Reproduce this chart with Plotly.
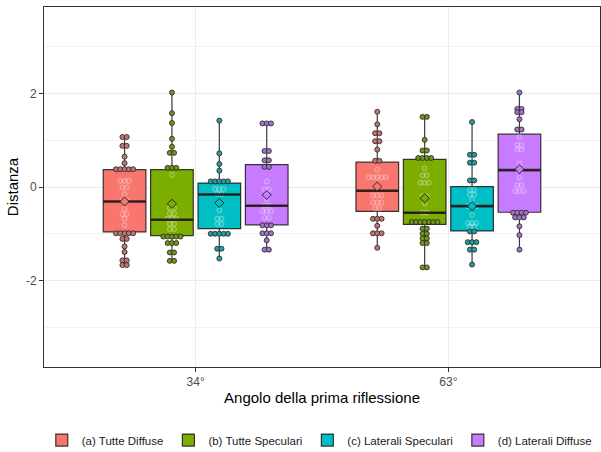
import plotly.graph_objects as go
from collections import Counter

# ---------------- data ----------------
conditions = ["(a) Tutte Diffuse", "(b) Tutte Speculari",
              "(c) Laterali Speculari", "(d) Laterali Diffuse"]
angle_labels = ["34°", "63°"]
colors = ["#F8766D", "#7CAE00", "#00BFC4", "#C77CFF"]
dot_colors = ["#C27470", "#6E9418", "#1F9FA3", "#A072C8"]
y_tick_vals = [-2, 0, 2]
y_tick_labels = ["-2", "0", "2"]
y_minor_vals = [-3, -1, 1, 3]

# box statistics: [34°, 63°] for each condition
q1_vals = [[-0.96, -0.52], [-1.04, -0.80], [-0.89, -0.94], [-0.81, -0.54]]
median_vals = [[-0.31, -0.08], [-0.70, -0.55], [-0.16, -0.41], [-0.40, 0.36]]
q3_vals = [[0.37, 0.53], [0.37, 0.59], [0.085, 0.01], [0.48, 1.13]]
lower_vals = [[-1.67, -1.30], [-1.59, -1.72], [-1.55, -1.66], [-1.36, -1.35]]
upper_vals = [[1.07, 1.60], [2.01, 1.50], [1.41, 1.39], [1.37, 2.01]]
mean_vals = [[-0.31, 0.01], [-0.36, -0.24], [-0.34, -0.41], [-0.17, 0.38]]

# individual observations (dot plot)
obs_a_34 = [1.07, 1.07, 0.88, 0.88, 0.65, 0.51, 0.38, 0.38, 0.38, 0.38, 0.38,
            0.13, 0.13, 0.13, -0.01, -0.01, -0.15, -0.29, -0.29, -0.47,
            -0.58, -0.58, -0.68, -0.82, -0.99, -0.99, -0.99, -0.99, -0.99,
            -1.11, -1.11, -1.27, -1.39, -1.57, -1.57, -1.67, -1.67]
obs_b_34 = [2.02, 1.58, 1.37, 1.03, 0.86, 0.73, 0.73, 0.41, 0.41, 0.41, 0.26,
            -0.45, -0.45, -0.57, -0.57, -0.68, -0.68, -0.68, -0.79, -0.79,
            -0.90, -0.90, -1.06, -1.06, -1.06, -1.06, -1.06, -1.20, -1.20,
            -1.20, -1.40, -1.40, -1.58, -1.58]
obs_c_34 = [1.42, 0.72, 0.49, 0.35, 0.12, 0.12, 0.12, 0.12, 0.12, -0.04,
            -0.04, -0.04, -0.15, -0.15, -0.50, -0.68, -0.68, -0.79, -0.79,
            -1.00, -1.00, -1.00, -1.00, -1.00, -1.32, -1.32, -1.53]
obs_d_34 = [1.36, 1.36, 1.36, 0.77, 0.77, 0.57, 0.57, 0.43, 0.43, 0.12,
            -0.05, -0.05, -0.25, -0.40, -0.40, -0.52, -0.52, -0.52, -0.66,
            -0.66, -0.82, -0.82, -0.82, -0.99, -0.99, -0.99, -1.14, -1.34, -1.34]
obs_a_63 = [1.61, 1.34, 1.15, 1.15, 0.98, 0.98, 0.80, 0.56, 0.56, 0.37,
            0.21, 0.21, 0.21, 0.21, 0.21, 0.03, -0.18, -0.18, -0.18, -0.33,
            -0.33, -0.33, -0.46, -0.46, -0.68, -0.68, -0.68, -0.83, -0.99,
            -0.99, -0.99, -1.30]
obs_b_63 = [1.50, 1.50, 1.01, 0.78, 0.78, 0.62, 0.62, 0.62, 0.62, 0.40,
            0.25, 0.25, 0.09, 0.09, 0.09, -0.20, -0.20, -0.35, -0.55, -0.55,
            -0.75, -0.75, -0.75, -0.75, -0.75, -0.75, -0.75, -0.89, -0.89,
            -1.00, -1.00, -1.10, -1.10, -1.20, -1.20, -1.72, -1.72]
obs_c_63 = [1.39, 0.69, 0.69, 0.52, 0.52, 0.14, 0.14, -0.06, -0.06, -0.16,
            -0.16, -0.27, -0.41, -0.41, -0.41, -0.60, -0.77, -0.77, -0.77,
            -0.85, -0.85, -0.95, -0.95, -1.18, -1.18, -1.18, -1.34, -1.34, -1.66]
obs_d_63 = [2.02, 1.67, 1.67, 1.60, 1.60, 1.45, 1.23, 1.23, 1.07, 0.90, 0.90,
            0.80, 0.80, 0.50, 0.36, 0.36, 0.20, 0.04, 0.04, -0.09, -0.09,
            -0.09, -0.55, -0.55, -0.55, -0.55, -0.65, -0.65, -0.65, -0.84,
            -1.03, -1.34]

observations = [[obs_a_34, obs_a_63], [obs_b_34, obs_b_63],
                [obs_c_34, obs_c_63], [obs_d_34, obs_d_63]]

# ---------------- layout constants ----------------
DODGE = 0.75 / 4
BOX_W = DODGE * 0.9
DOT_DX = 0.017
FONT = "Liberation Sans, Arial, sans-serif"
DARK = "rgba(25,25,25,0.85)"

fig = go.Figure()


def pos(k, g):
    return g + (k - 1.5) * DODGE


# boxes
for k, cond in enumerate(conditions):
    fig.add_trace(go.Box(
        name=cond,
        x=[pos(k, g) for g in range(2)],
        q1=q1_vals[k], median=median_vals[k], q3=q3_vals[k],
        lowerfence=lower_vals[k], upperfence=upper_vals[k],
        width=BOX_W, whiskerwidth=0, boxpoints=False,
        fillcolor=colors[k], line=dict(color=DARK, width=1.2),
        hoverinfo="skip", legendgroup=cond,
    ))

# dots (centre-stacked dot plot)
for k, cond in enumerate(conditions):
    xs, ys, fills, lines = [], [], [], []
    for g in range(2):
        counts = Counter(observations[k][g])
        for v, n in counts.items():
            inside = (q1_vals[k][g] + 0.05) < v < (q3_vals[k][g] - 0.05)
            for j in range(n):
                xs.append(pos(k, g) + (j - (n - 1) / 2) * DOT_DX)
                ys.append(v)
                fills.append("rgba(255,255,255,0.08)" if inside else dot_colors[k])
                lines.append("rgba(255,255,255,0.32)" if inside else "rgba(45,40,40,0.85)")
    fig.add_trace(go.Scatter(
        x=xs, y=ys, mode="markers", showlegend=False, hoverinfo="skip",
        legendgroup=cond,
        marker=dict(size=5, color=fills, line=dict(color=lines, width=1)),
    ))

# thick median lines
for k, cond in enumerate(conditions):
    for g in range(2):
        p = pos(k, g)
        fig.add_trace(go.Scatter(
            x=[p - BOX_W / 2, p + BOX_W / 2],
            y=[median_vals[k][g], median_vals[k][g]],
            mode="lines", line=dict(color="rgba(40,25,25,0.9)", width=2.6),
            showlegend=False, hoverinfo="skip", legendgroup=cond,
        ))

# mean diamonds
for k, cond in enumerate(conditions):
    fig.add_trace(go.Scatter(
        x=[pos(k, g) for g in range(2)], y=mean_vals[k], mode="markers",
        marker=dict(symbol="diamond", size=7, color=colors[k],
                    line=dict(color="rgba(30,30,30,0.9)", width=1)),
        showlegend=False, hoverinfo="skip", legendgroup=cond,
    ))

fig.update_layout(
    width=601, height=452,
    margin=dict(l=44, r=1, t=7, b=85, autoexpand=False),
    paper_bgcolor="white", plot_bgcolor="white",
    boxmode="overlay",
    font=dict(family=FONT, color="#000000"),
    legend=dict(orientation="h", x=-0.004, xanchor="left", y=-0.203,
                yanchor="middle", font=dict(size=11.5, color="#1a1a1a"),
                traceorder="normal", tracegroupgap=0, itemwidth=30,
                borderwidth=0),
    xaxis=dict(
        range=[-0.6, 1.6], tickvals=[0, 1], ticktext=angle_labels,
        showgrid=True, gridcolor="#EBEBEB", gridwidth=1, zeroline=False,
        showline=True, mirror=True, linecolor="#333333", linewidth=1,
        ticks="outside", ticklen=4, tickcolor="#333333", automargin=False,
        tickfont=dict(size=12, color="#4D4D4D"),
        title=dict(text="Angolo della prima riflessione",
                   font=dict(size=15, color="#000000"), standoff=4),
    ),
    yaxis=dict(
        range=[-3.85, 3.85], tickvals=y_tick_vals, ticktext=y_tick_labels,
        showgrid=True, gridcolor="#EBEBEB", gridwidth=1, zeroline=False,
        showline=True, mirror=True, linecolor="#333333", linewidth=1,
        ticks="outside", ticklen=4, tickcolor="#333333", automargin=False,
        tickfont=dict(size=12, color="#4D4D4D"),
        minor=dict(tickvals=y_minor_vals, showgrid=True, gridcolor="#F2F2F2",
                   gridwidth=1, ticks=""),
        title=dict(text="Distanza", font=dict(size=15, color="#000000"),
                   standoff=3),
    ),
)

fig.write_html("out.html", config={"displayModeBar": False},
               post_script="document.body.style.margin='0';")
